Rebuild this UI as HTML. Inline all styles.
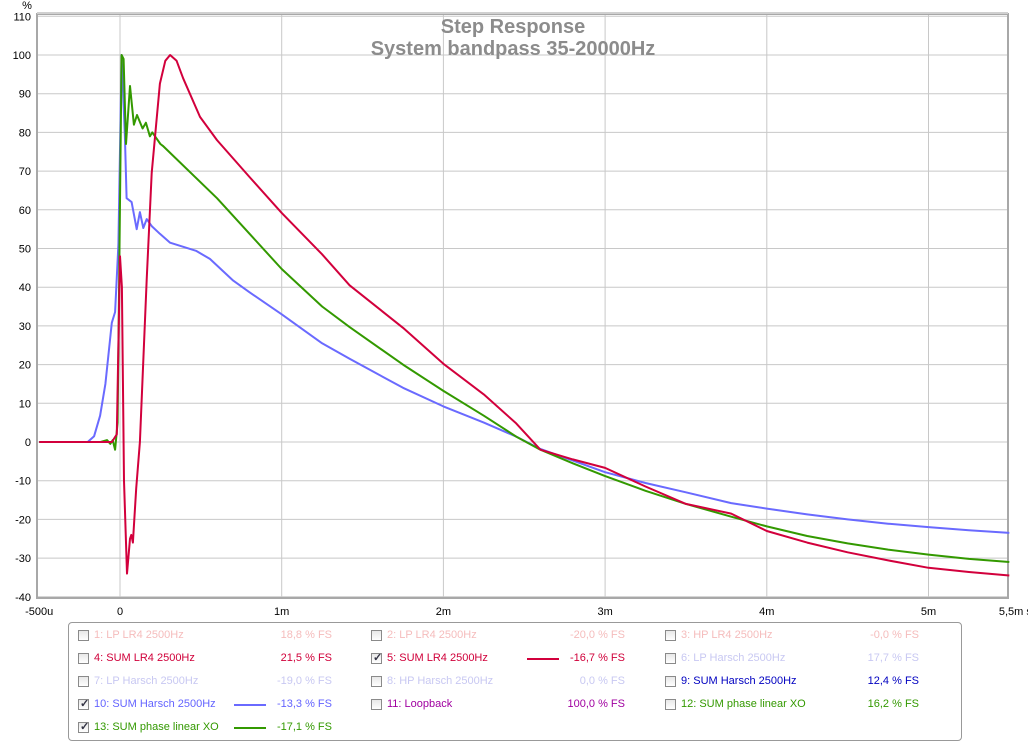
<!DOCTYPE html>
<html><head><meta charset="utf-8">
<style>
body{margin:0;background:#fff;font-family:"Liberation Sans",Arial,sans-serif;}
#wrap{position:relative;width:1028px;height:742px;overflow:hidden;background:#fff}
.lg{position:absolute;font-size:11px;white-space:nowrap}
.cb{position:absolute;width:11px;height:11px;border:1px solid #8a8a8a;background:linear-gradient(#e8e8e8,#fff);box-sizing:border-box}
.cb.on::after{content:"✓";position:absolute;left:1px;top:-3px;font-size:11px;color:#334;font-weight:bold}
.val{position:absolute;font-size:11px;text-align:right;width:80px;white-space:nowrap}
.ln{position:absolute;height:2px;width:32px}
</style></head><body>
<div id="wrap">
<svg id="svg" width="1028" height="620" style="position:absolute;left:0;top:0"></svg>
<div style="position:absolute;left:68px;top:622px;width:892px;height:117px;border:1px solid #999;border-radius:4px"></div>
<div id="legend"></div>
</div>
<script>
const xTicks=[-0.5,0,1,2,3,4,5,5.5];
const xTickLabels=["-500u","0","1m","2m","3m","4m","5m","5,5m s"];
const yTicks=[110,100,90,80,70,60,50,40,30,20,10,0,-10,-20,-30,-40];
const blueT=[-0.5,-0.2,-0.16,-0.123,-0.09,-0.051,-0.03,-0.01,0.01,0.03,0.041,0.072,0.103,0.123,0.144,0.165,0.196,0.247,0.31,0.47,0.556,0.7,0.8,1,1.25,1.42,1.75,2,2.25,2.45,2.6,2.8,3,3.25,3.5,3.78,4,4.25,4.5,4.75,5,5.25,5.5];
const blueV=[0,0,1.5,6.8,15,30.8,33.6,51,100,79,63,62,55,59.4,55.3,57.6,55.8,53.8,51.5,49.4,47.3,41.7,38.7,33,25.5,21.5,14,9.2,5,1.4,-1.8,-4.8,-7.8,-10.6,-13,-15.8,-17.2,-18.7,-20,-21.1,-22,-22.8,-23.5];
const greenT=[-0.5,-0.12,-0.08,-0.06,-0.045,-0.03,-0.015,0.01,0.022,0.037,0.062,0.086,0.105,0.14,0.16,0.185,0.2,0.25,0.265,0.6,1,1.25,1.42,1.75,2,2.25,2.45,2.6,2.8,3,3.25,3.5,3.78,4,4.25,4.5,4.75,5,5.25,5.5];
const greenV=[0,0,0.5,-0.5,0.5,-2,5,100,99,77,92,82,84.5,81,82.5,79,80,77,76.5,63,44.7,35,29.7,20,13.2,6.8,1.4,-2,-5.5,-8.8,-12.6,-16,-19.3,-21.8,-24.3,-26.2,-27.8,-29.1,-30.2,-31];
const redT=[-0.5,-0.05,-0.02,0,0.012,0.025,0.043,0.062,0.07,0.08,0.1,0.123,0.165,0.196,0.247,0.28,0.31,0.35,0.39,0.495,0.6,0.8,1,1.25,1.42,1.75,2,2.25,2.45,2.6,2.8,3,3.25,3.5,3.78,4,4.25,4.5,4.75,5,5.25,5.5];
const redV=[0,0,2,48,40,-10,-34,-25,-24,-26,-12,0,42,69.5,92.6,98.5,100,98.5,94,84,78,68.5,59.2,48.5,40.5,29.5,20.2,12.3,4.8,-2,-4.5,-6.7,-11.5,-16,-18.5,-23,-26,-28.5,-30.6,-32.5,-33.6,-34.5];
const X0=37,X1=1008,Y0=14,Y1=598;
const xs=t=>120+t*161.7;
const ys=v=>442-v*3.87;
const svg=document.getElementById('svg');
const NS='http://www.w3.org/2000/svg';
function mk(tag,attrs){const e=document.createElementNS(NS,tag);for(const k in attrs)e.setAttribute(k,attrs[k]);svg.appendChild(e);return e;}
yTicks.forEach(v=>{const l=mk('line',{x1:X0,x2:X1,y1:ys(v),y2:ys(v),stroke:'#c8c8c8','stroke-width':1});

const t=mk('text',{x:31,y:ys(v)+4,'text-anchor':'end','font-size':11,fill:'#000'});t.textContent=v;
});
xTicks.forEach((v,i)=>{if(i>0&&i<xTicks.length-1){const l=mk('line',{x1:xs(v),x2:xs(v),y1:Y0,y2:Y1,stroke:'#c8c8c8','stroke-width':1});
}
const t=mk('text',{x:i==xTicks.length-1?xs(v)+6:xs(v),y:615,'text-anchor':'middle','font-size':11,fill:'#000'});t.textContent=xTickLabels[i];
});
const u=mk('text',{x:27,y:9,'font-size':11,'text-anchor':'middle'});u.textContent='%';

const b=mk('rect',{x:X0,y:Y0,width:X1-X0,height:Y1-Y0,fill:'none',stroke:'#a8a8a8','stroke-width':2});

const sh=mk('line',{x1:X0,x2:X1,y1:Y0-1,y2:Y0-1,stroke:'#d0d0d0','stroke-width':2});

function pts(T,V){return T.map((t,i)=>xs(t).toFixed(1)+','+ys(V[i]).toFixed(1)).join(' ');}
const s1=mk('polyline',{points:pts(blueT,blueV),fill:'none',stroke:'#6a6aff','stroke-width':2,'stroke-linejoin':'round'});

const s2=mk('polyline',{points:pts(greenT,greenV),fill:'none',stroke:'#339900','stroke-width':2,'stroke-linejoin':'round'});

const s3=mk('polyline',{points:pts(redT,redV),fill:'none',stroke:'#d2003c','stroke-width':2,'stroke-linejoin':'round'});

const t1=mk('text',{x:513,y:33,'text-anchor':'middle','font-size':20,'font-weight':'bold',fill:'#8c8c8c'});t1.textContent='Step Response';

const t2=mk('text',{x:513,y:55,'text-anchor':'middle','font-size':20,'font-weight':'bold',fill:'#8c8c8c'});t2.textContent='System bandpass 35-20000Hz';


const legNames=["1: LP LR4 2500Hz","2: LP LR4 2500Hz","3: HP LR4 2500Hz","4: SUM LR4 2500Hz","5: SUM LR4 2500Hz","6: LP Harsch 2500Hz","7: LP Harsch 2500Hz","8: HP Harsch 2500Hz","9: SUM Harsch 2500Hz","10: SUM Harsch 2500Hz","11: Loopback","12: SUM phase linear XO","13: SUM phase linear XO"];
const legVals=["18,8 % FS","-20,0 % FS","-0,0 % FS","21,5 % FS","-16,7 % FS","17,7 % FS","-19,0 % FS","0,0 % FS","12,4 % FS","-13,3 % FS","100,0 % FS","16,2 % FS","-17,1 % FS"];
const legCol=["#f5bcbc","#f5bcbc","#f5bcbc","#d0003a","#d0003a","#c8c8f2","#c8c8f2","#c8c8f2","#0000c0","#6464ff","#a000a0","#339900","#339900"];
const legOn=[0,0,0,0,1,0,0,0,0,1,0,0,1];
const lineCol={4:"#d2003c",9:"#6a6aff",12:"#339900"};
const lg=document.getElementById('legend');
legNames.forEach((n,i)=>{const r=Math.floor(i/3),c=i%3;const y=630+r*23;const bx=[78,371,665][c];
const cb=document.createElement('div');cb.className='cb'+(legOn[i]?' on':'');cb.style.left=bx+'px';cb.style.top=y+'px';
lg.appendChild(cb);
const tx=document.createElement('div');tx.className='lg';tx.style.left=(bx+16)+'px';tx.style.top=(y-1)+'px';tx.style.color=legCol[i];tx.textContent=n;
lg.appendChild(tx);
const v=document.createElement('div');v.className='val';v.style.left=(bx+174)+'px';v.style.top=(y-1)+'px';v.style.color=legCol[i];v.textContent=legVals[i];
lg.appendChild(v);
if(lineCol[i]){const l=document.createElement('div');l.className='ln';l.style.left=(bx+156)+'px';l.style.top=(y+5)+'px';l.style.background=lineCol[i];
lg.appendChild(l);}
});
</script>
</body></html>
